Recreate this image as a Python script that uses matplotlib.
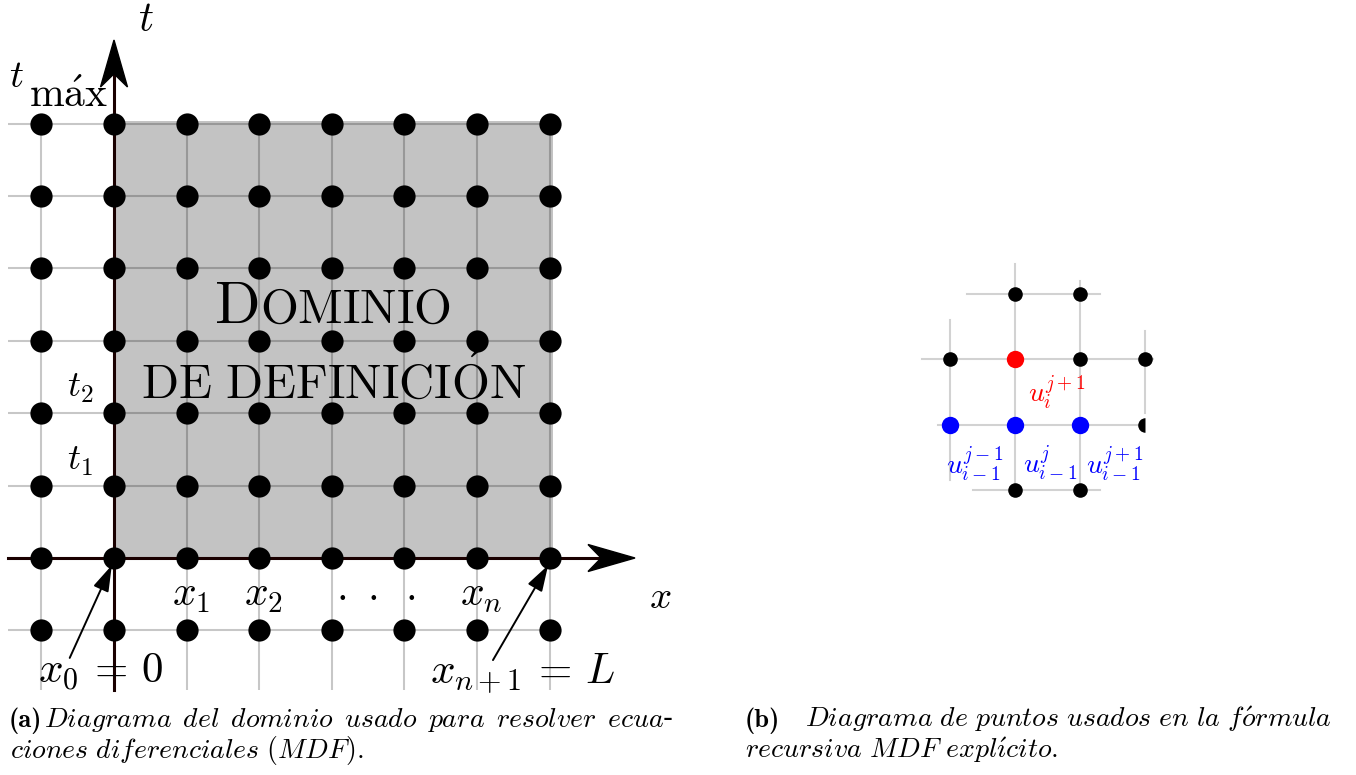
import matplotlib
matplotlib.use("Agg")
import matplotlib.pyplot as plt
from matplotlib.patches import Rectangle, Polygon

plt.rcParams["mathtext.fontset"] = "cm"

W, H = 1356, 775

# ---- left panel: grid of nodes (grid units) ----
grid_cols = [-1, 0, 1, 2, 3, 4, 5, 6]
grid_rows = [-1, 0, 1, 2, 3, 4, 5, 6]
domain_x = (0, 6.04)
domain_t = (0, 6.04)
x_labels = [r"$x_1$", r"$x_2$", r"$\cdot\,\,\cdot\,\,\cdot$", r"$x_n$"]
x_label_pos = [1, 2, 3.55, 5]
t_labels = [r"$t_1$", r"$t_2$"]
t_label_pos = [1, 2]

# ---- right panel: stencil (column, row) ----
black_nodes = [(1, 3), (2, 3), (0, 2), (2, 2), (3, 2), (1, 0), (2, 0)]
cut_nodes = [(3, 1)]
red_nodes = [(1, 2)]
blue_nodes = [(0, 1), (1, 1), (2, 1)]
h_segments = [(3, 0.26, 2.31), (2, -0.43, 3.12), (1, -0.18, 2.92), (0, 0.35, 2.31)]
v_segments = [(0, 0.15, 2.6), (1, 0.0, 3.46), (2, 0.0, 3.2), (3, 1.18, 2.43)]
red_label = (r"$u_i^{j+1}$", 1.65, 1.50)
blue_labels = [(r"$u_{i-1}^{j-1}$", 0.38, 0.41),
               (r"$u_{i-1}^{j}$", 1.54, 0.41),
               (r"$u_{i-1}^{j+1}$", 2.54, 0.41)]

fig = plt.figure(figsize=(W / 100, H / 100), dpi=100)


def px_axes(x0, y0, x1, y1):
    # axes placed by pixel box (top-left origin)
    return fig.add_axes([x0 / W, 1 - y1 / H, (x1 - x0) / W, (y1 - y0) / H])


# left axes: origin at pixel (114, 558), step 72.6 x 72.4 px
ox, oy, sx, sy = 114, 558, 72.6, 72.4
axl = px_axes(0, 0, 690, 700)
axl.set_xlim((0 - ox) / sx, (690 - ox) / sx)
axl.set_ylim((oy - 700) / sy, (oy - 0) / sy)
axl.set_axis_off()

axl.add_patch(Rectangle((domain_x[0], domain_t[0]), domain_x[1] - domain_x[0],
                        domain_t[1] - domain_t[0], facecolor="#c3c3c3",
                        edgecolor="none", zorder=1))

gx0 = (8 - ox) / sx
gy0 = (oy - 690) / sy
for r in grid_rows:
    axl.plot([gx0, grid_cols[-1]], [r, r], color="black", alpha=0.22, lw=1.5,
             zorder=2, solid_capstyle="butt")
for c in grid_cols:
    axl.plot([c, c], [gy0, grid_rows[-1]], color="black", alpha=0.22, lw=1.5,
             zorder=2, solid_capstyle="butt")

# axes with stealth arrow heads
axis_col = "#1a0000"
x_tip = (635 - ox) / sx
t_tip = (oy - 40) / sy
hl_x, hw_x = 47 / sx, 13.5 / sy
hl_t, hw_t = 47 / sy, 13.5 / sx
axl.plot([gx0, x_tip - 0.5 * hl_x], [0, 0], color=axis_col, lw=2.2, zorder=3)
axl.plot([0, 0], [gy0, t_tip - 0.5 * hl_t], color=axis_col, lw=2.2, zorder=3)
axl.add_patch(Polygon([(x_tip, 0), (x_tip - hl_x, hw_x), (x_tip - 0.72 * hl_x, 0),
                       (x_tip - hl_x, -hw_x)], closed=True, color="black", zorder=5))
axl.add_patch(Polygon([(0, t_tip), (hw_t, t_tip - hl_t), (0, t_tip - 0.72 * hl_t),
                       (-hw_t, t_tip - hl_t)], closed=True, color="black", zorder=5))

gxx = [c for r in grid_rows for c in grid_cols]
gyy = [r for r in grid_rows for c in grid_cols]
axl.plot(gxx, gyy, "o", color="black", ms=16, mew=0, zorder=4)

# labels
fs = 30
for lab, p in zip(x_labels, x_label_pos):
    axl.text(p + 0.06, -0.66, lab, fontsize=fs, ha="center", va="baseline", zorder=6)
for lab, p in zip(t_labels, t_label_pos):
    axl.text(-0.47, p + 0.22, lab, fontsize=26, ha="center", va="baseline", zorder=6)
axl.text(7.52, -0.69, r"$x$", fontsize=28, ha="center", va="baseline")
axl.text(0.44, 7.28, r"$t$", fontsize=30, ha="center", va="baseline")
axl.text(-1.45, 6.50, r"$t$", fontsize=28, ha="left", va="baseline")
axl.text(-1.17, 6.23, r"$\mathrm{m\acute{a}x}$", fontsize=30, ha="left", va="baseline")
axl.text(-1.05, -1.73, r"$x_0\,=\,0$", fontsize=31, ha="left", va="baseline", zorder=6)
axl.text(4.35, -1.73, r"$x_{n+1}\,=\,L$", fontsize=31, ha="left", va="baseline", zorder=6)

arrow_kw = dict(arrowstyle="-|>,head_length=0.8,head_width=0.25", color="black",
                lw=1.4, shrinkA=0, shrinkB=0, mutation_scale=20)
axl.annotate("", xy=(-0.03, -0.10), xytext=(-0.61, -1.38), arrowprops=arrow_kw, zorder=7)
axl.annotate("", xy=(5.98, -0.10), xytext=(5.22, -1.41), arrowprops=arrow_kw, zorder=7)

# "Dominio de definición" in small caps
axl.text(1.99, 3.25, r"$\mathrm{D}$", fontsize=43, ha="right", va="baseline", zorder=6)
axl.text(2.01, 3.25, r"$\mathrm{OMINIO}$", fontsize=35, ha="left", va="baseline", zorder=6)
axl.text(3.02, 2.22, r"$\mathrm{DE\ DEFINICI\acute{O}N}$", fontsize=35,
         ha="center", va="baseline", zorder=6)

# right axes: origin at pixel (950, 490), step 65 x 65.3 px
rx, ry, rsx, rsy = 950, 490, 65.0, 65.3
axr = px_axes(880, 240, 1220, 520)
axr.set_xlim((880 - rx) / rsx, (1220 - rx) / rsx)
axr.set_ylim((ry - 520) / rsy, (ry - 240) / rsy)
axr.set_axis_off()

for r, a, b in h_segments:
    axr.plot([a, b], [r, r], color="#d2d2d2", lw=1.5, zorder=1)
for c, a, b in v_segments:
    axr.plot([c, c], [a, b], color="#d2d2d2", lw=1.5, zorder=1)

axr.plot([p[0] for p in black_nodes], [p[1] for p in black_nodes], "o",
         color="black", ms=10.5, mew=0, zorder=3)
axr.plot([p[0] for p in cut_nodes], [p[1] for p in cut_nodes], "o",
         color="black", ms=10.5, mew=0, fillstyle="left", zorder=3)
axr.plot([p[0] for p in red_nodes], [p[1] for p in red_nodes], "o",
         color="#ff0000", ms=12.5, mew=0, zorder=3)
axr.plot([p[0] for p in blue_nodes], [p[1] for p in blue_nodes], "o",
         color="#0000ff", ms=12.5, mew=0, zorder=3)

axr.text(red_label[1], red_label[2], red_label[0], color="#ff0000", fontsize=20,
         ha="center", va="center")
for lab, x, y in blue_labels:
    axr.text(x, y, lab, color="#0000ff", fontsize=20, ha="center", va="center")


# captions
def it(s, gap=r"\ "):
    s = s.replace(" ", gap).replace("ó", r"\acute{o}").replace("í", r"\acute{\imath}")
    return r"$\mathit{" + s + "}$"


cfs = 20


def ftext(x, y, s, size=cfs, **kw):
    fig.text(x / W, 1 - y / H, s, fontsize=size, va="baseline", ha="left", **kw)


ftext(9, 727, "(a)", size=19, family="cmb10")
ftext(44, 727, it("Diagrama del dominio usado para resolver ecua", r"\ \,") + "-")
ftext(10, 758, it("ciones diferenciales (MDF)."))
ftext(745, 727, "(b)", size=19, family="cmb10")
ftext(805, 727, it("Diagrama de puntos usados en la fórmula"))
ftext(745, 758, it("recursiva MDF explícito."))

fig.savefig("out.png", dpi=100)
